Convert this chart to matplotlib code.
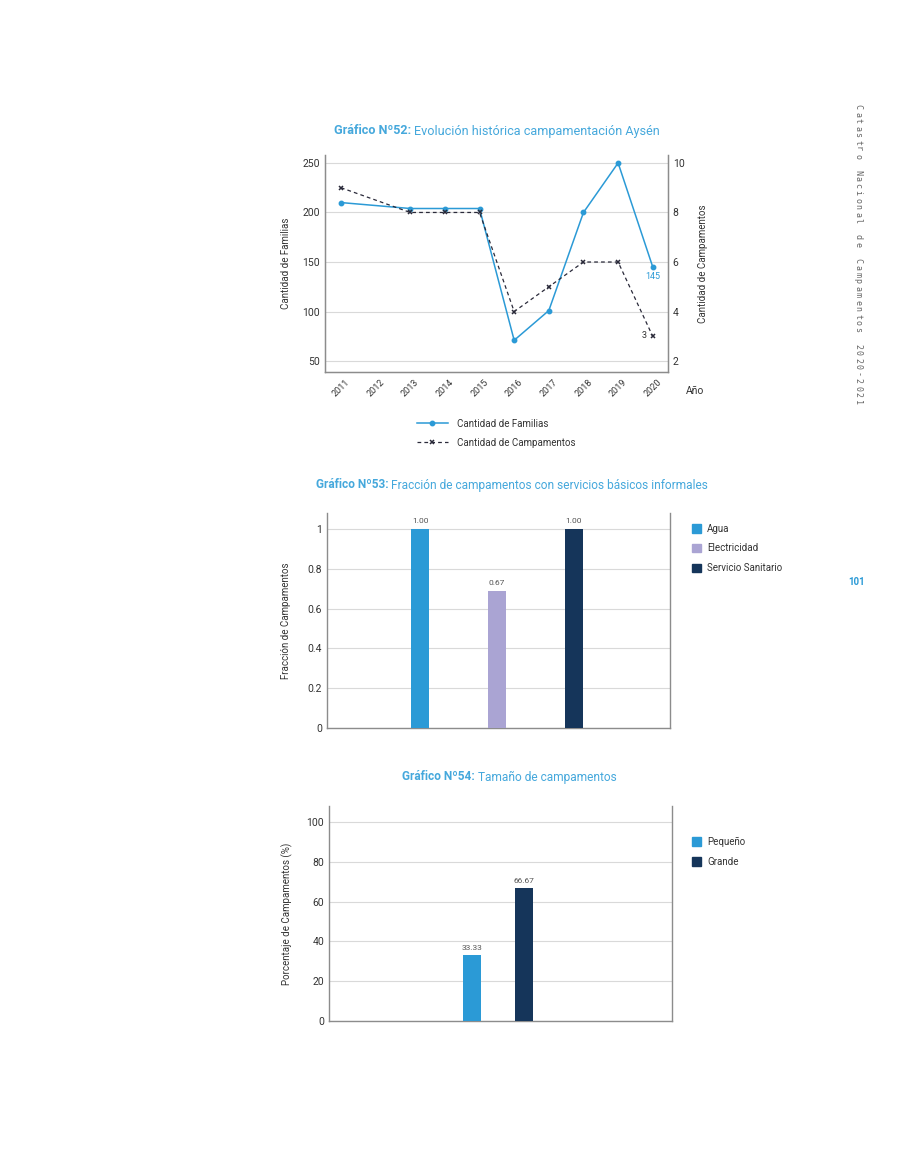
import matplotlib
matplotlib.use("Agg")
import matplotlib.pyplot as plt
import numpy as np
from matplotlib.lines import Line2D
from matplotlib.patches import Patch

plt.rcParams['font.family'] = ['Roboto', 'DejaVu Sans']

# ---------------- data ----------------
years = [2011, 2012, 2013, 2014, 2015, 2016, 2017, 2018, 2019, 2020]
familias = [210, np.nan, 204, 204, 204, 71, 101, 200, 250, 145]
campamentos = [9, np.nan, 8, 8, 8, 4, 5, 6, 6, 3]

servicios = ["Agua", "Electricidad", "Servicio Sanitario"]
fraccion = [1.00, 0.67, 1.00]
fraccion_labels = ["1.00", "0.67", "1.00"]
fraccion_plot = [1.00, 0.69, 1.00]

tamanos = ["Pequeño", "Grande"]
porcentaje = [33.33, 66.67]

side_words = ["Catastro", "Nacional", "de", "Campamentos", "2020-2021"]

BLUE = "#2b9ad6"
TITLE_BLUE = "#45a8dc"
LAV = "#aaa4d3"
NAVY = "#15355a"
GRID = "#d9d9d9"
SPINE = "#8c8c8c"
TXT = "#333333"

fig = plt.figure(figsize=(9, 11.65), dpi=100)
W, H = 900, 1165

def fx(px):
    return px / W

def fy(py):
    return 1 - py / H

def add_ax(l, t, r, b):
    return fig.add_axes([fx(l), fy(b), fx(r) - fx(l), (b - t) / H])

renderer = fig.canvas.get_renderer()

def title(cx, cy, bold, rest, size=9.0):
    t1 = fig.text(0, fy(cy), bold, fontsize=size, fontweight='bold', color=TITLE_BLUE, va='center')
    t2 = fig.text(0, fy(cy), rest, fontsize=size, color=TITLE_BLUE, va='center')
    w1 = t1.get_window_extent(renderer).width
    w2 = t2.get_window_extent(renderer).width
    total = w1 + w2
    x0 = cx - total / 2
    t1.set_x(fx(x0))
    t2.set_x(fx(x0 + w1))

def style(ax):
    ax.set_facecolor('white')
    for s in ['left', 'right', 'bottom']:
        ax.spines[s].set_color(SPINE)
        ax.spines[s].set_linewidth(1.0)
    ax.spines['top'].set_visible(False)
    ax.grid(axis='y', color=GRID, linewidth=0.8)
    ax.set_axisbelow(True)
    ax.tick_params(axis='both', length=0, labelsize=7.5, colors=TXT)

# ---------------- Chart 52 ----------------
title(497, 131, "Gráfico Nº52: ", "Evolución histórica campamentación Aysén", size=9.1)
ax1 = add_ax(325, 155, 668, 372)
style(ax1)
x = np.array(years, dtype=float)
fam = np.array(familias, dtype=float)
cam = np.array(campamentos, dtype=float)
m1 = ~np.isnan(fam)
ax1.plot(x[m1], fam[m1], color=BLUE, lw=1.1, marker='o', ms=3.2, zorder=3)
ax1.set_xlim(2010.54, 2020.44)
ax1.set_ylim(39, 258)
ax1.set_yticks([50, 100, 150, 200, 250])
ax1.set_xticks(years)
ax1.set_xticklabels([str(y) for y in years], rotation=45, fontsize=6.5)
ax1.tick_params(axis='x', pad=4)
ax1.set_ylabel("Cantidad de Familias", fontsize=7, color=TXT, labelpad=8)
ax1.text(2020, 135, "145", color=BLUE, fontsize=6.5, ha='center', va='center')

ax2 = ax1.twinx()
ax2.spines['top'].set_visible(False)
for s in ['left', 'right', 'bottom']:
    ax2.spines[s].set_color(SPINE)
m2 = ~np.isnan(cam)
ax2.plot(x[m2], cam[m2], color='#2a2a3a', lw=0.9, ls=(0, (3, 2.5)), marker='x', ms=3.2, mew=1.1, zorder=3)
ax2.set_ylim(39 / 25, 258 / 25)
ax2.set_yticks([2, 4, 6, 8, 10])
ax2.tick_params(axis='y', length=0, labelsize=7.5, colors=TXT)
ax2.set_ylabel("Cantidad de Campamentos", fontsize=7, color=TXT, labelpad=10)
ax2.text(2019.75, 3.05, "3", color=TXT, fontsize=6.5, ha='center', va='center')
fig.text(fx(686), fy(391), "Año", fontsize=7.5, color=TXT, va='center')

handles = [Line2D([0], [0], color=BLUE, lw=1.1, marker='o', ms=3.2),
           Line2D([0], [0], color='#2a2a3a', lw=0.9, ls=(0, (3, 2.5)), marker='x', ms=3.2, mew=1.1)]
fig.legend(handles, ["Cantidad de Familias", "Cantidad de Campamentos"],
           loc='upper left', bbox_to_anchor=(fx(408), fy(410)), frameon=False,
           fontsize=7, handlelength=3.2, labelspacing=0.9, handletextpad=0.9,
           labelcolor=TXT)

# ---------------- Chart 53 ----------------
title(512, 485, "Gráfico Nº53: ", "Fracción de campamentos con servicios básicos informales", size=8.6)
ax3 = add_ax(327, 513, 670, 728)
style(ax3)
pos = np.arange(len(servicios))
cols = [BLUE, LAV, NAVY]
ax3.bar(pos, fraccion_plot, width=0.23, color=cols, zorder=3)
for p, v, lab in zip(pos, fraccion_plot, fraccion_labels):
    ax3.text(p, v + 0.025, lab, ha='center', va='bottom', fontsize=6, color='#555555')
ax3.set_xlim(-1.21, 3.25)
ax3.set_ylim(0, 1.08)
ax3.set_yticks([0, 0.2, 0.4, 0.6, 0.8, 1])
ax3.set_yticklabels(["0", "0.2", "0.4", "0.6", "0.8", "1"])
ax3.set_xticks([])
ax3.set_ylabel("Fracción de Campamentos", fontsize=7, color=TXT, labelpad=12)
fig.legend([Patch(color=c) for c in cols], servicios, loc='upper left',
           bbox_to_anchor=(fx(683), fy(515)), frameon=False, fontsize=7,
           handlelength=1.0, handleheight=1.0, labelspacing=1.0, handletextpad=0.6,
           labelcolor=TXT)

# ---------------- Chart 54 ----------------
title(509, 777, "Gráfico Nº54: ", "Tamaño de campamentos", size=8.6)
ax4 = add_ax(329, 806, 672, 1021)
style(ax4)
pos2 = np.arange(len(tamanos))
cols2 = [BLUE, NAVY]
ax4.bar(pos2, porcentaje, width=0.35, color=cols2, zorder=3)
for p, v in zip(pos2, porcentaje):
    ax4.text(p, v + 2, f"{v:.2f}", ha='center', va='bottom', fontsize=6, color='#555555')
ax4.set_xlim(-2.75, 3.85)
ax4.set_ylim(0, 108)
ax4.set_yticks([0, 20, 40, 60, 80, 100])
ax4.set_xticks([])
ax4.set_ylabel("Porcentaje de Campamentos (%)", fontsize=7, color=TXT, labelpad=10)
fig.legend([Patch(color=c) for c in cols2], tamanos, loc='upper left',
           bbox_to_anchor=(fx(683), fy(828)), frameon=False, fontsize=7,
           handlelength=1.0, handleheight=1.0, labelspacing=1.0, handletextpad=0.6,
           labelcolor=TXT)

# ---------------- side text (letter-spaced, vertical) ----------------
pitch, word_gap = 7.0, 16.0
ypos = 107.0
for wi, word in enumerate(side_words):
    if wi > 0:
        ypos += word_gap - pitch
    for ch in word:
        fig.text(fx(858), fy(ypos), ch, rotation=-90, fontsize=6,
                 family='DejaVu Sans Mono', color='#666666', ha='center', va='center')
        ypos += pitch
fig.text(fx(857), fy(582), "101", fontsize=7, color=BLUE, fontweight='bold', ha='center', va='center')

fig.savefig("out.png", dpi=100, facecolor='white')
